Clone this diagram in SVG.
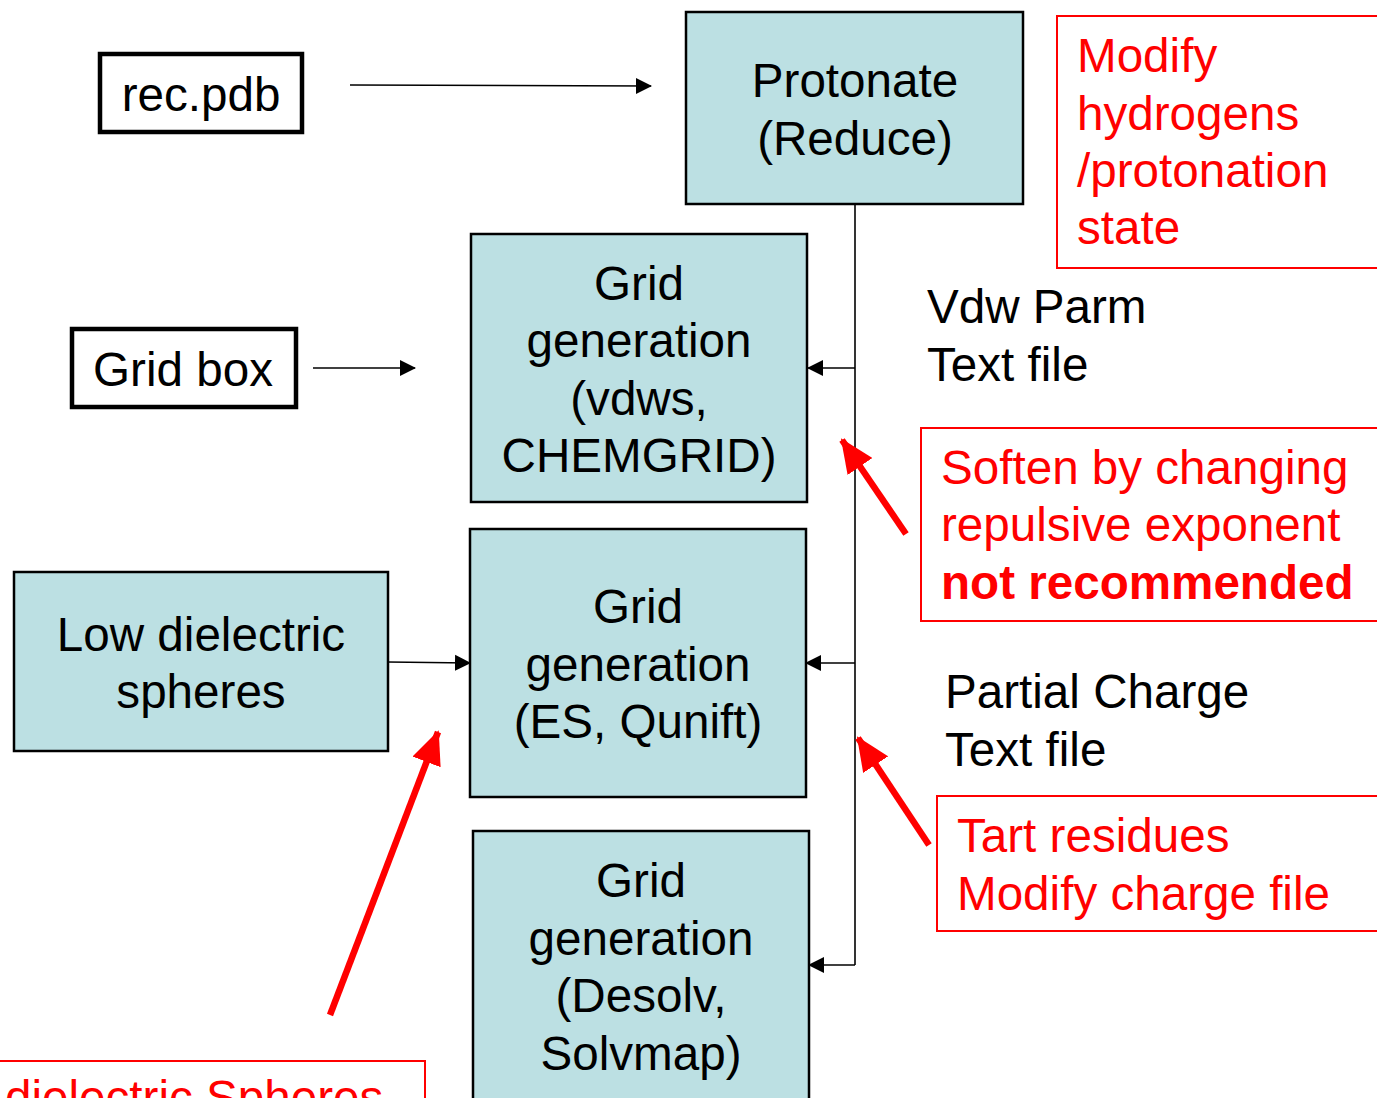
<svg xmlns="http://www.w3.org/2000/svg" width="1377" height="1098" viewBox="0 0 1377 1098">
<style>
text{font-family:"Liberation Sans",Arial,sans-serif;font-size:47.6px}
.blk{fill:#000}
.red{fill:#ff0000}
.c{text-anchor:middle}
.proc{fill:#bce0e3;stroke:#000;stroke-width:2.5}
.inp{fill:#fff;stroke:#000;stroke-width:4.5}
.note{fill:#fff;stroke:#ff0000;stroke-width:2}
.ln{fill:none;stroke:#000;stroke-width:1.6}
.ra{fill:none;stroke:#ff0000;stroke-width:6.5}
</style>
<defs>
<marker id="ah" markerUnits="userSpaceOnUse" markerWidth="16" markerHeight="18" refX="15" refY="8" orient="auto" viewBox="0 0 16 16">
<path d="M0,0 L16,8 L0,16 Z" fill="#000"/>
</marker>
<marker id="rh" markerUnits="userSpaceOnUse" markerWidth="34" markerHeight="30" refX="32" refY="15" orient="auto" viewBox="0 0 34 30">
<path d="M0,0 L34,15 L0,30 Z" fill="#ff0000"/>
</marker>
</defs>
<rect width="1377" height="1098" fill="#fff"/>

<g id="connectors">
<path class="ln" d="M350,85 L651,86" marker-end="url(#ah)"/>
<path class="ln" d="M313,368 L415,368" marker-end="url(#ah)"/>
<path class="ln" d="M855,204 L855,965"/>
<path class="ln" d="M855,368 L808,368" marker-end="url(#ah)"/>
<path class="ln" d="M855,663 L806,663" marker-end="url(#ah)"/>
<path class="ln" d="M855,965 L809,965" marker-end="url(#ah)"/>
<path class="ln" d="M388,662 L470,663" marker-end="url(#ah)"/>
<path class="ra" d="M906,534 L842,440" marker-end="url(#rh)"/>
<path class="ra" d="M929,845 L858,738" marker-end="url(#rh)"/>
<path class="ra" d="M330,1015 L438,732" marker-end="url(#rh)"/>
</g>

<g id="rec-pdb">
<rect class="inp" x="100" y="54" width="202" height="78"/>
<text class="blk c" x="201" y="111">rec.pdb</text>
</g>

<g id="grid-box">
<rect class="inp" x="72" y="329" width="224" height="78"/>
<text class="blk c" x="183" y="386">Grid box</text>
</g>

<g id="protonate">
<rect class="proc" x="686" y="12" width="337" height="192"/>
<text class="blk c" x="855" y="97">Protonate</text>
<text class="blk c" x="855" y="155">(Reduce)</text>
</g>

<g id="modify-hydrogens">
<rect class="note" x="1057" y="16" width="330" height="252"/>
<text class="red" x="1077" y="72">Modify</text>
<text class="red" x="1077" y="130">hydrogens</text>
<text class="red" x="1077" y="187">/protonation</text>
<text class="red" x="1077" y="244">state</text>
</g>

<g id="grid-vdws">
<rect class="proc" x="471" y="234" width="336" height="268"/>
<text class="blk c" x="639" y="300">Grid</text>
<text class="blk c" x="639" y="357">generation</text>
<text class="blk c" x="639" y="415">(vdws,</text>
<text class="blk c" x="639" y="472">CHEMGRID)</text>
</g>

<g id="vdw-parm">
<text class="blk" x="927" y="323">Vdw Parm</text>
<text class="blk" x="927" y="381">Text file</text>
</g>

<g id="soften">
<rect class="note" x="921" y="428" width="466" height="193"/>
<text class="red" x="941" y="484">Soften by changing</text>
<text class="red" x="941" y="541">repulsive exponent</text>
<text class="red" x="941" y="599" font-weight="bold">not recommended</text>
</g>

<g id="low-dielectric">
<rect class="proc" x="14" y="572" width="374" height="179"/>
<text class="blk c" x="201" y="651">Low dielectric</text>
<text class="blk c" x="201" y="708">spheres</text>
</g>

<g id="grid-es">
<rect class="proc" x="470" y="529" width="336" height="268"/>
<text class="blk c" x="638" y="623">Grid</text>
<text class="blk c" x="638" y="681">generation</text>
<text class="blk c" x="638" y="738">(ES, Qunift)</text>
</g>

<g id="partial-charge">
<text class="blk" x="945" y="708">Partial Charge</text>
<text class="blk" x="945" y="766">Text file</text>
</g>

<g id="tart">
<rect class="note" x="937" y="796" width="450" height="135"/>
<text class="red" x="957" y="852">Tart residues</text>
<text class="red" x="957" y="910">Modify charge file</text>
</g>

<g id="grid-desolv">
<rect class="proc" x="473" y="831" width="336" height="290"/>
<text class="blk c" x="641" y="897">Grid</text>
<text class="blk c" x="641" y="955">generation</text>
<text class="blk c" x="641" y="1012">(Desolv,</text>
<text class="blk c" x="641" y="1070">Solvmap)</text>
</g>

<g id="dielectric-spheres">
<rect class="note" x="-10" y="1061" width="435" height="80"/>
<text class="red" x="5" y="1114">dielectric Spheres</text>
</g>
</svg>
